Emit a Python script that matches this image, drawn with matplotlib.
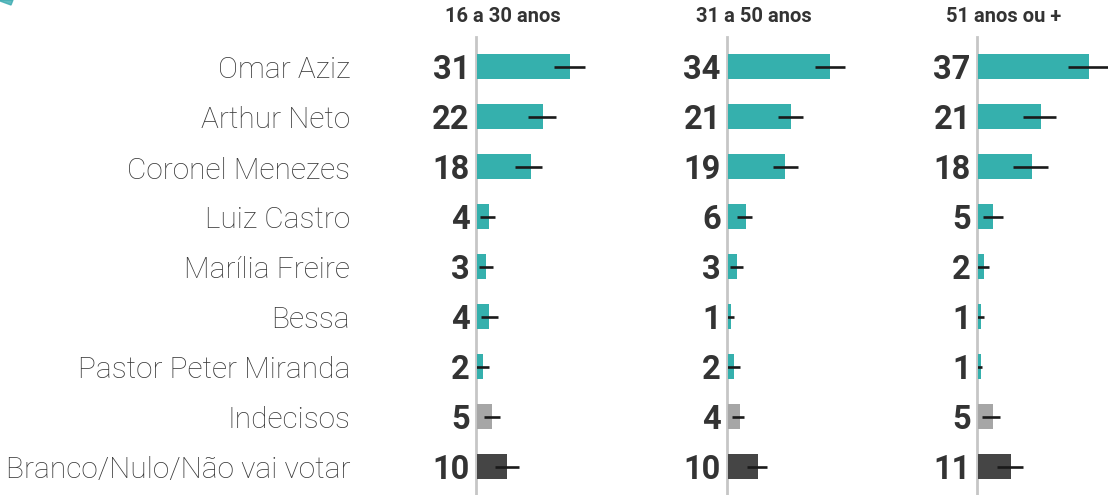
import matplotlib
matplotlib.use("Agg")
import matplotlib.pyplot as plt
from matplotlib.patches import Polygon

# Données (intentions de vote par tranche d'âge)
candidats = ["Omar Aziz", "Arthur Neto", "Coronel Menezes", "Luiz Castro",
             "Marília Freire", "Bessa", "Pastor Peter Miranda", "Indecisos",
             "Branco/Nulo/Não vai votar"]
groupes = ["16 a 30 anos", "31 a 50 anos", "51 anos ou +"]

val_16_30 = [31, 22, 18, 4, 3, 4, 2, 5, 10]
val_31_50 = [34, 21, 19, 6, 3, 1, 2, 4, 10]
val_51 = [37, 21, 18, 5, 2, 1, 1, 5, 11]

# bornes des marges d'erreur
bas_16_30 = [25.8, 16.9, 12.8, 1.1, 0.5, 1.3, -0.3, 2.4, 6.1]
haut_16_30 = [36.1, 26.3, 21.7, 6.0, 5.2, 6.9, 3.9, 7.7, 13.9]
bas_31_50 = [29.0, 16.8, 14.9, 2.9, 0.7, -0.4, -0.2, 1.2, 6.4]
haut_31_50 = [39.0, 25.1, 23.2, 7.9, 4.9, 2.1, 4.0, 5.4, 12.9]
bas_51 = [29.9, 14.9, 11.5, 1.5, -0.4, -1.2, -0.9, 1.3, 6.3]
haut_51 = [44.0, 26.0, 23.4, 8.2, 3.5, 2.1, 1.3, 7.3, 15.1]

valeurs = [val_16_30, val_31_50, val_51]
bas = [bas_16_30, bas_31_50, bas_51]
haut = [haut_16_30, haut_31_50, haut_51]

teal = "#35b0ad"
couleurs = [teal] * 7 + ["#a6a6a6", "#454545"]

W, H = 1108, 495
fig = plt.figure(figsize=(W / 100, H / 100), dpi=100)

axes_px = [477, 728, 978]   # position de l'axe vertical de chaque panneau
pxu = 3.0                   # pixels par point de pourcentage
larg = 130
haut_ax = 495 - 37

n = len(candidats)
y = list(range(n))

for k in range(3):
    ax = fig.add_axes([axes_px[k] / W, 0, larg / W, haut_ax / H])
    ax.set_xlim(0, larg / pxu)
    ax.set_ylim((495 - 66.5) / 50, -(66.5 - 37) / 50)
    ax.axis("off")
    ax.barh(y, valeurs[k], height=0.5, color=couleurs, zorder=2)
    ax.hlines(y, bas[k], haut[k], color="#1a1a1a", lw=1.9, zorder=3)
    ax.axvline(-0.4, color="#c6c6c6", lw=2.0, zorder=1, clip_on=False)
    for i in range(n):
        ax.text(-2.4, y[i], str(valeurs[k][i]), ha="right",
                va="center_baseline", fontsize=23.5, fontweight="bold",
                color="#333333", family="Roboto", clip_on=False)
    fig.text((axes_px[k] + 26) / W, 1 - 16 / H, groupes[k], ha="center",
             va="center", fontsize=14.5, fontweight="bold", color="#333333",
             family="Roboto")

# étiquettes des candidats
for i in range(n):
    fig.text(350 / W, 1 - (67.5 + 50 * i) / H, candidats[i], ha="right",
             va="center_baseline", fontsize=21.5, fontweight="light",
             color="#383838", family="Roboto")

# petit morceau de logo en haut à gauche
fig.patches.append(Polygon([(0, 1), (13 / W, 1), (11 / W, 1 - 5 / H),
                            (0, 1 - 1 / H)], closed=True,
                           transform=fig.transFigure, color="#3aaab0",
                           alpha=0.8))

fig.savefig("out.png", dpi=100)
